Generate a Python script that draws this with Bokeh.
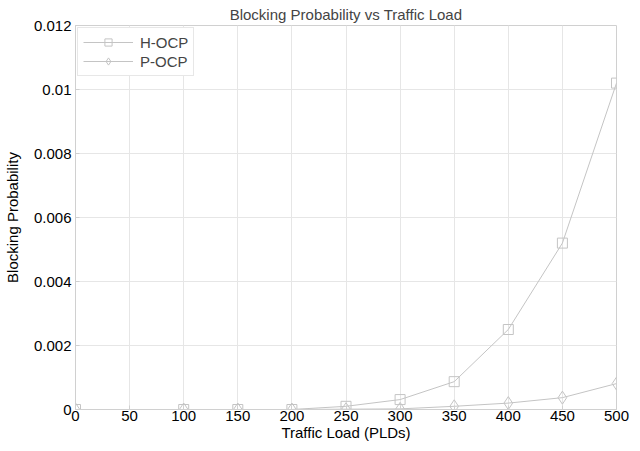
from bokeh.plotting import figure
from bokeh.models import Range1d, FixedTicker, Legend, LegendItem
from bokeh.embed import file_html
from bokeh.resources import INLINE

load = [0, 100, 150, 200, 250, 300, 350, 400, 450, 500]
h_ocp = [0, 0, 0, 0, 0.0001, 0.00031, 0.00087, 0.0025, 0.0052, 0.0102]
p_ocp = [0, 0, 0, 0, 0.00001, 0.00002, 0.0001, 0.0002, 0.00037, 0.00081]

x_ticks = [0, 50, 100, 150, 200, 250, 300, 350, 400, 450, 500]
y_ticks = [0, 0.002, 0.004, 0.006, 0.008, 0.01, 0.012]
y_tick_labels = ["0", "0.002", "0.004", "0.006", "0.008", "0.01", "0.012"]
title_text = "Blocking Probability vs Traffic Load"

FONT = "Liberation Sans"
LINE = "#c4c4c4"
GRID = "#e6e6e6"

p = figure(width=632, height=443, output_backend="svg", toolbar_location=None,
           x_range=Range1d(0, 500), y_range=Range1d(0, 0.012),
           min_border_left=75, min_border_right=16, min_border_top=25, min_border_bottom=33)

p.title.text = title_text
p.title.align = "center"
p.title.vertical_align = "top"
p.title.text_font = FONT
p.title.text_font_size = "15px"
p.title.text_font_style = "normal"
p.title.standoff = 2
p.title.offset = 0

p.xaxis.ticker = FixedTicker(ticks=x_ticks)
p.yaxis.ticker = FixedTicker(ticks=y_ticks)
p.yaxis.major_label_overrides = {t: l for t, l in zip(y_ticks, y_tick_labels)}
p.xaxis.major_label_overrides = {t: str(t) for t in x_ticks}

for ax in (p.xaxis, p.yaxis):
    ax.axis_line_color = "#d0d0d0"
    ax.major_tick_line_color = "#d0d0d0"
    ax.major_tick_out = 0
    ax.major_tick_in = 4
    ax.minor_tick_line_color = None
    ax.major_label_text_font = FONT
    ax.major_label_text_font_size = "15px"
    ax.major_label_text_color = "black"
    ax.axis_label_text_font = FONT
    ax.axis_label_text_font_size = "15px"
    ax.axis_label_text_font_style = "normal"
    ax.axis_label_text_color = "black"

p.xaxis.axis_label = "Traffic Load (PLDs)"
p.yaxis.axis_label = "Blocking Probability"
p.xaxis.major_label_standoff = 1
p.xaxis.axis_label_standoff = 0
p.yaxis.major_label_standoff = 4
p.yaxis.axis_label_standoff = 10

p.xgrid.ticker = FixedTicker(ticks=x_ticks)
p.ygrid.ticker = FixedTicker(ticks=y_ticks)
p.grid.grid_line_color = GRID
p.outline_line_color = "#d0d0d0"

l1 = p.line(load, h_ocp, line_color=LINE, line_width=1)
m1 = p.scatter(load, h_ocp, marker="square", size=10, line_color=LINE, fill_alpha=0)
l2 = p.line(load, p_ocp, line_color=LINE, line_width=1)
m2 = p.scatter(load, p_ocp, marker="diamond", size=13, line_color=LINE, fill_alpha=0)

legend = Legend(items=[LegendItem(label="H-OCP", renderers=[l1, m1]),
                       LegendItem(label="P-OCP", renderers=[l2, m2])],
                location="top_left", label_text_font=FONT, label_text_font_size="15px",
                border_line_color="#d0d0d0", background_fill_alpha=1,
                margin=2, padding=5, spacing=1, glyph_width=50, glyph_height=18,
                label_height=18, label_standoff=7)
p.add_layout(legend)

open("out.html", "w").write(file_html(p, INLINE))
